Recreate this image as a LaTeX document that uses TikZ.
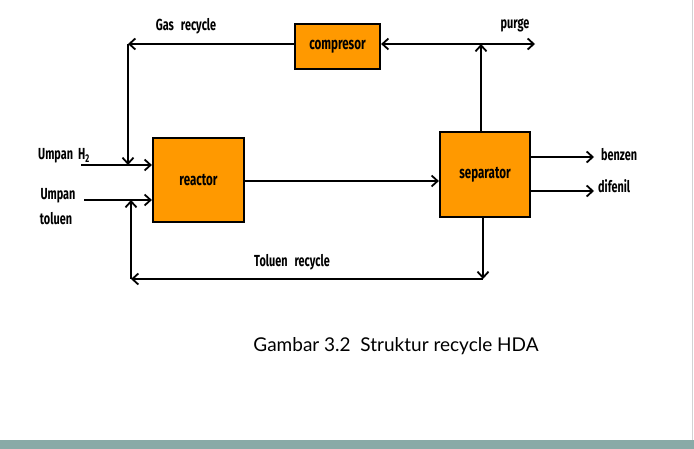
\documentclass[tikz,border=0pt]{standalone}
\usepackage{fontspec}
\setmainfont{Lato}
\newfontfamily\labfont[FakeStretch=0.68]{Fira Sans}
\usepackage{tikz}
\usetikzlibrary{arrows.meta,positioning}
\definecolor{boxorange}{RGB}{255,153,0}
\definecolor{barteal}{RGB}{137,170,167}
\tikzset{
  unit/.style={draw=black,fill=boxorange,line width=2.2pt,inner sep=0pt,font=\labfont\bfseries\fontsize{17}{19}\selectfont},
  lab/.style={font=\labfont\bfseries\fontsize{16}{18}\selectfont,inner sep=1pt},
  flow/.style={line width=1.8pt,-{Straight Barb[length=6pt,width=11pt,line width=1.8pt]}},
  line/.style={line width=1.8pt}
}

\begin{document}
\begin{tikzpicture}[x=1pt,y=-1pt]
	\useasboundingbox (0,0) rectangle (694,449);
	\fill[barteal] (0,440) rectangle (694,449);
	\draw[gray!35,line width=1pt] (692,0) -- (692,440);

\node[unit,minimum width=85pt,minimum height=45pt] (comp) at (337.5,46.5) {compresor};
\node[unit,minimum width=91pt,minimum height=84pt] (reac) at (198.5,180) {reactor};
\node[unit,minimum width=90pt,minimum height=85pt] (sep) at (485,174.5) {separator};

\coordinate (gasL) at (128,44);
\coordinate (gasD) at (128,165);
\coordinate (h2in) at (81,165);
\coordinate (tolin) at (84,200);
\coordinate (tolup) at (131,200);
\coordinate (tolL) at (131,279);
\coordinate (tolR) at (483,279);
\coordinate (sepB) at (483,217);
\coordinate (purgeJ) at (481,44);
\coordinate (purgeR) at (535,44);
\coordinate (benz) at (594,157);
\coordinate (dif) at (594,191);

\draw[flow] (comp.west |- gasL) -- (gasL);
\draw[flow] (gasL) -- (gasD);
\draw[flow] (h2in) -- (reac.west |- h2in);
\draw[flow] (tolin) -- (reac.west |- tolin);
\draw[flow] (reac.east |- 0,181) -- (sep.west |- 0,181);
\draw[flow] (sep.north -| purgeJ) -- (purgeJ);
\draw[flow] (purgeJ) -- (comp.east |- purgeJ);
\draw[flow] (purgeJ) -- (purgeR);
\draw[flow] (sep.east |- benz) -- (benz);
\draw[flow] (sep.east |- dif) -- (dif);
\draw[flow,line width=1.5pt] (sepB) -- (tolR);
\draw[flow] (tolR) -- (tolL);
\draw[flow] (tolL) -- (tolup);

\node[lab] (lgas) at (186,26) {Gas\hspace{7pt}recycle};
\node[lab] (lpurge) at (515,25) {purge};
\node[lab] (lh2) at (64,156) {Umpan\hspace{5pt}H\textsubscript{2}};
\node[lab] (lump) at (58,196) {Umpan};
\node[lab] (ltol) at (56,219) {toluen};
\node[lab,anchor=west] (lbenz) at (600,155) {benzen};
\node[lab,anchor=west] (ldif) at (597,186) {difenil};
\node[lab] (ltrec) at (292,262) {Toluen\hspace{7pt}recycle};

\node[font=\fontsize{19}{22}\selectfont] (cap) at (396,346) {Gambar 3.2\ \ Struktur recycle HDA};
\end{tikzpicture}
\end{document}
